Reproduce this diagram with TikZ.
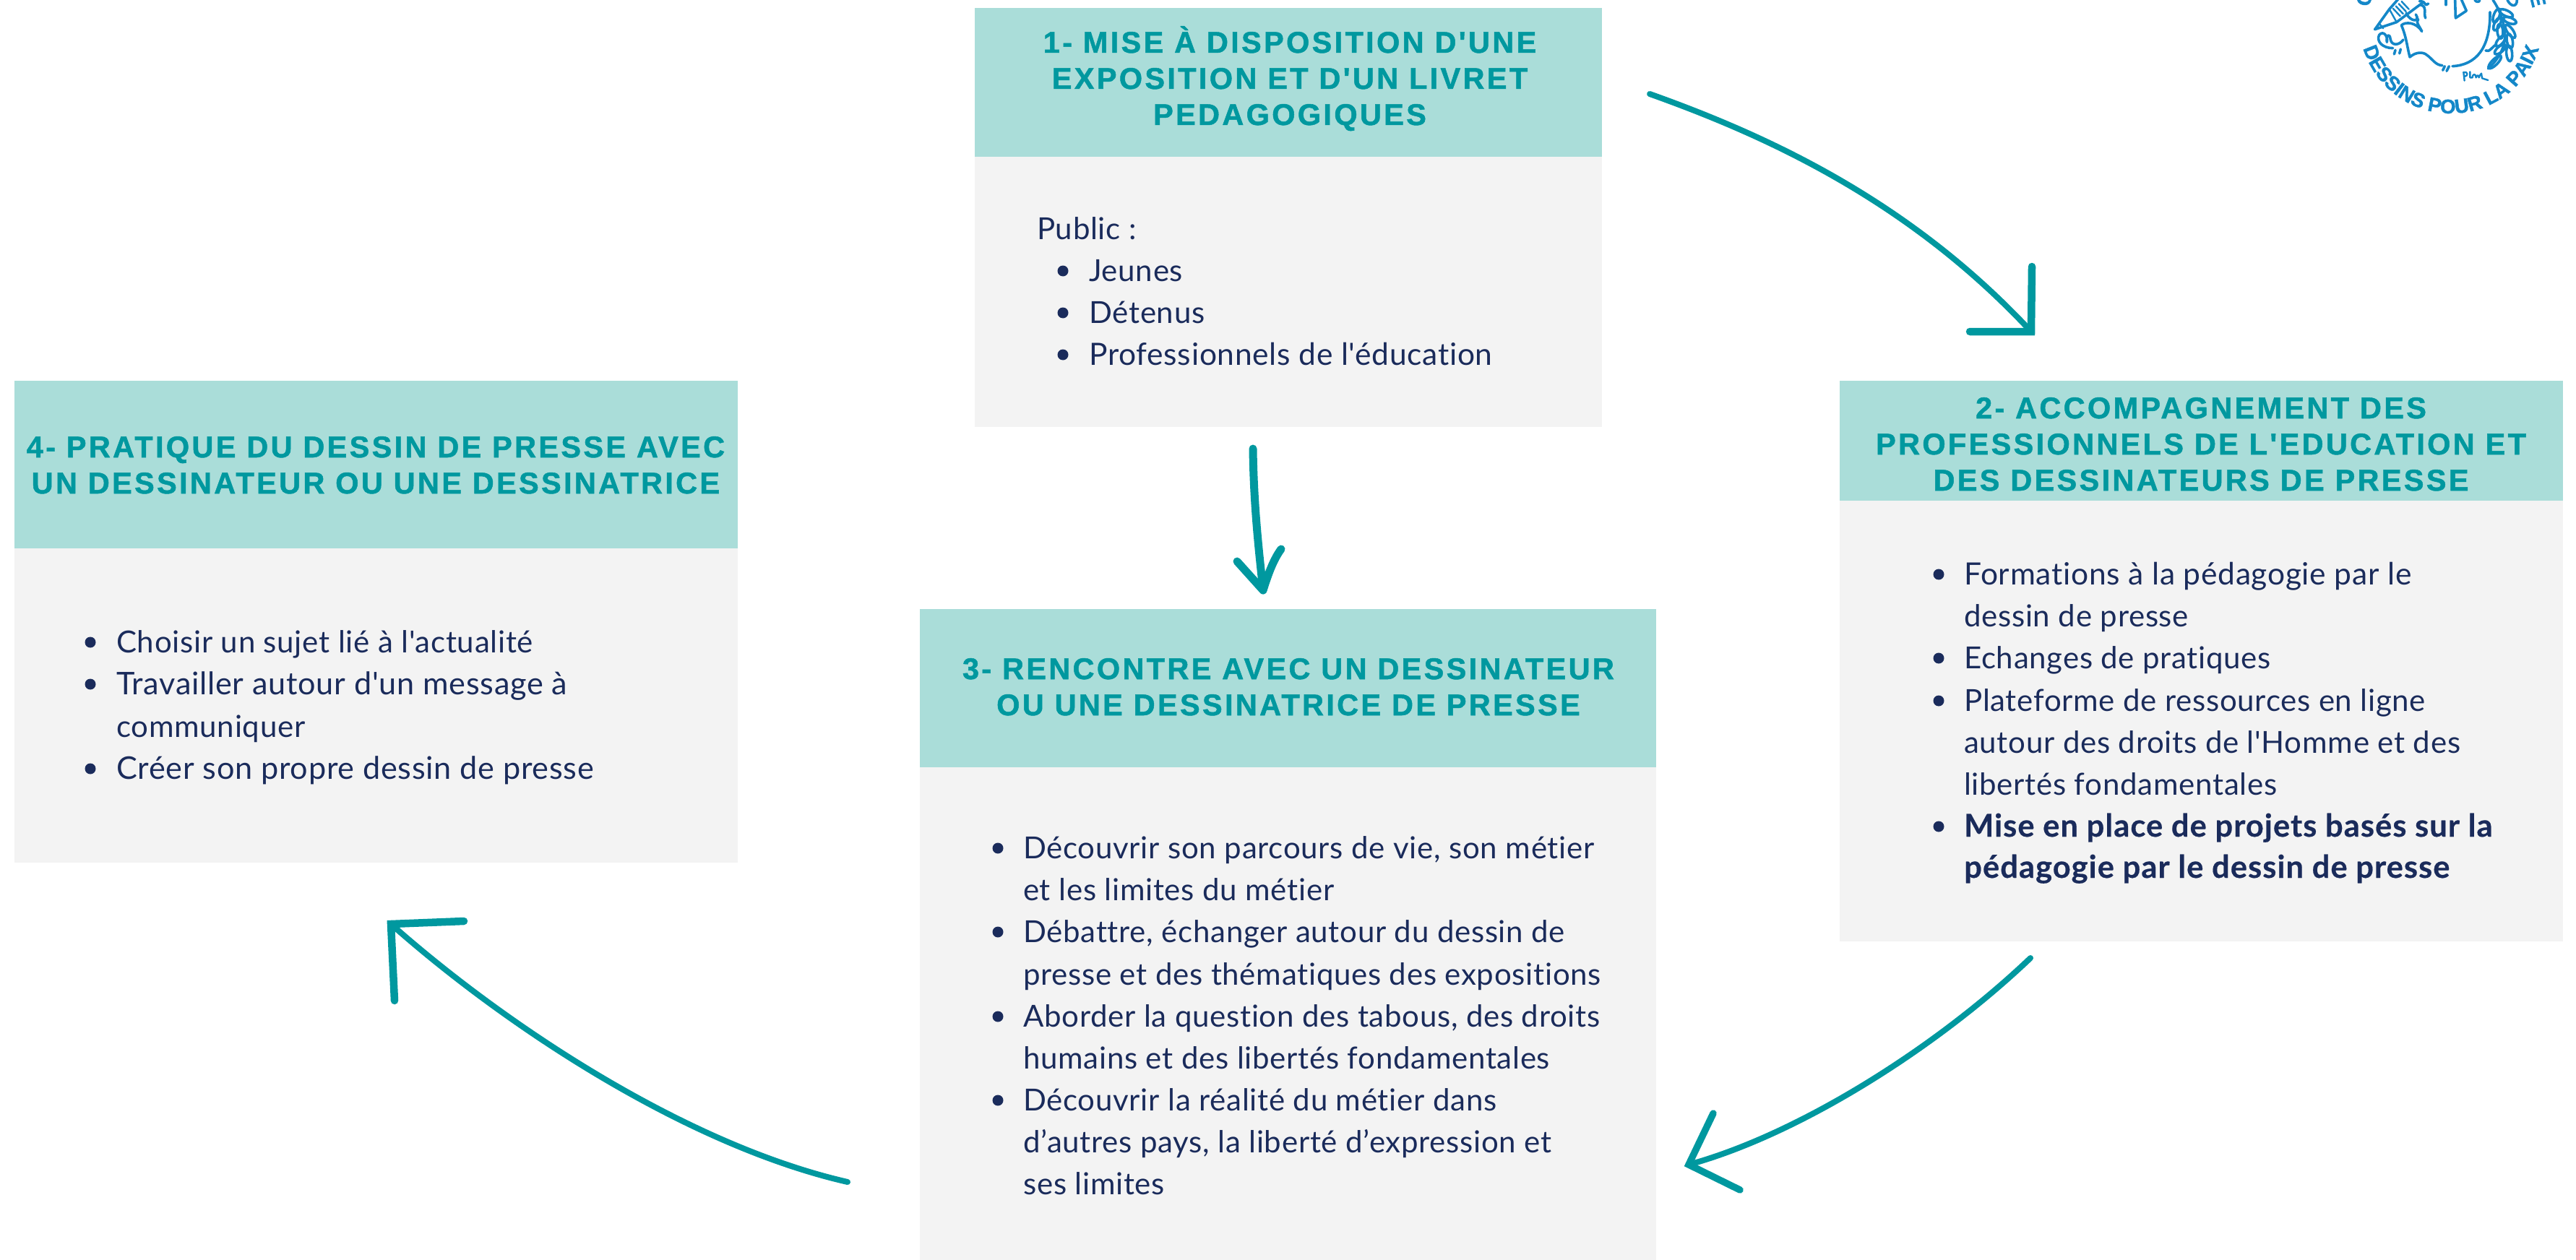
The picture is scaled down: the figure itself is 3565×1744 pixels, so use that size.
\documentclass[tikz,border=0pt]{standalone}
\usepackage{fontspec}
\usetikzlibrary{decorations.text}
\newfontfamily\bodyfont[Ligatures=NoCommon,LetterSpace=1.7,BoldFeatures={LetterSpace=2.4,FakeBold=0.4}]{Lato}
\newfontfamily\headfont[LetterSpace=8,FakeBold=1.2]{Liberation Sans Bold}
\newfontfamily\logofont[FakeBold=1.6]{Liberation Sans Bold}
\definecolor{headbg}{HTML}{AADDD9}
\definecolor{bodybg}{HTML}{F3F3F3}
\definecolor{teal1}{HTML}{00989F}
\definecolor{navy1}{HTML}{1A2B5B}
\definecolor{logoblue}{HTML}{1487C8}
\tikzset{
  headbox/.style={rectangle,fill=headbg,draw=none,inner sep=0pt,anchor=north west},
  bodybox/.style={rectangle,fill=bodybg,draw=none,inner sep=0pt,anchor=north west},
  headtxt/.style={anchor=base,inner sep=0pt,text=teal1,font=\headfont\fontsize{41.5}{50}\selectfont},
  bodytxt/.style={anchor=base west,inner sep=0pt,text=navy1,font=\bodyfont\fontsize{42}{58}\selectfont},
  widetxt/.style={bodytxt,font=\bodyfont\fontsize{43.2}{58}\selectfont},
  boldtxt/.style={bodytxt,font=\bodyfont\bfseries\fontsize{43.5}{58}\selectfont},
  bul/.style={circle,fill=navy1,draw=none,inner sep=0pt,minimum size=15pt},
  shaft/.style={draw=teal1,line width=8pt,line cap=round},
  headstroke/.style={draw=teal1,line width=10.5pt,line cap=round,line join=miter},
  logoline/.style={draw=logoblue,line width=3.6pt,line cap=round,line join=round},
  leaf/.style={draw=logoblue,line width=3.6pt},
}
\begin{document}
\begin{tikzpicture}[x=1pt,y=-1pt]
\useasboundingbox (0,0) rectangle (3565,1744);
% boxes
\node[bodybox,minimum width=868pt,minimum height=374pt] (b1) at (1349,217) {};
\node[headbox,minimum width=868pt,minimum height=206pt] (h1) at (1349,11) {};
\node[bodybox,minimum width=1001pt,minimum height=610pt] (b2) at (2546,693) {};
\node[headbox,minimum width=1001pt,minimum height=166pt] (h2) at (2546,527) {};
\node[bodybox,minimum width=1019pt,minimum height=682pt] (b3) at (1273,1062) {};
\node[headbox,minimum width=1019pt,minimum height=219pt] (h3) at (1273,843) {};
\node[bodybox,minimum width=1001pt,minimum height=435pt] (b4) at (20,759) {};
\node[headbox,minimum width=1001pt,minimum height=232pt] (h4) at (20,527) {};
% headers
\node[headtxt] (h1a) at (1785,73) {1- MISE À DISPOSITION D'UNE};
\node[headtxt] (h1b) at (1785,123) {EXPOSITION ET D'UN LIVRET};
\node[headtxt] (h1c) at (1785,173) {PEDAGOGIQUES};
\node[headtxt] (h2a) at (3046,579) {2- ACCOMPAGNEMENT DES};
\node[headtxt] (h2b) at (3046,629) {PROFESSIONNELS DE L'EDUCATION ET};
\node[headtxt] (h2c) at (3046,679) {DES DESSINATEURS DE PRESSE};
\node[headtxt] (h3a) at (1783,940) {3- RENCONTRE AVEC UN DESSINATEUR};
\node[headtxt] (h3b) at (1783,990) {OU UNE DESSINATRICE DE PRESSE};
\node[headtxt] (h4a) at (520,633) {4- PRATIQUE DU DESSIN DE PRESSE AVEC};
\node[headtxt] (h4b) at (520,683) {UN DESSINATEUR OU UNE DESSINATRICE};
% box 1
\node[bodytxt] (t1a) at (1435,331) {Public :};
\node[bul] (d1b) at (1471,375) {};
\node[bodytxt] (t1b) at (1507,389) {Jeunes};
\node[bul] (d1c) at (1471,433) {};
\node[bodytxt] (t1c) at (1507,447) {Détenus};
\node[bul] (d1d) at (1471,491) {};
\node[bodytxt,font=\bodyfont\fontsize{42.5}{58}\selectfont] (t1d) at (1507,505) {Professionnels de l'éducation};
% box 2
\node[bul] (d2a) at (2683,795) {};
\node[bodytxt,font=\bodyfont\fontsize{42.5}{58}\selectfont] (t2a) at (2718,809) {Formations à la pédagogie par le};
\node[bodytxt] (t2b) at (2718,867) {dessin de presse};
\node[bul] (d2c) at (2683,911) {};
\node[bodytxt] (t2c) at (2718,925) {Echanges de pratiques};
\node[bul] (d2d) at (2683,970) {};
\node[bodytxt] (t2d) at (2718,984) {Plateforme de ressources en ligne};
\node[bodytxt] (t2e) at (2718,1042) {autour des droits de l'Homme et des};
\node[bodytxt] (t2f) at (2718,1100) {libertés fondamentales};
\node[bul] (d2g) at (2683,1144) {};
\node[boldtxt] (t2g) at (2718,1158) {Mise en place de projets basés sur la};
\node[boldtxt] (t2h) at (2718,1215) {pédagogie par le dessin de presse};
% box 3
\node[bul] (d3a) at (1381,1174) {};
\node[bodytxt] (t3a) at (1416,1188) {Découvrir son parcours de vie, son métier};
\node[bodytxt] (t3b) at (1416,1246) {et les limites du métier};
\node[bul] (d3c) at (1381,1290) {};
\node[bodytxt] (t3c) at (1416,1304) {Débattre, échanger autour du dessin de};
\node[bodytxt] (t3d) at (1416,1363) {presse et des thématiques des expositions};
\node[bul] (d3e) at (1381,1407) {};
\node[bodytxt] (t3e) at (1416,1421) {Aborder la question des tabous, des droits};
\node[bodytxt] (t3f) at (1416,1479) {humains et des libertés fondamentales};
\node[bul] (d3g) at (1381,1523) {};
\node[bodytxt] (t3g) at (1416,1537) {Découvrir la réalité du métier dans};
\node[bodytxt] (t3h) at (1416,1595) {d’autres pays, la liberté d’expression et};
\node[bodytxt] (t3i) at (1416,1653) {ses limites};
% box 4
\node[bul] (d4a) at (125,889) {};
\node[bodytxt] (t4a) at (161,903) {Choisir un sujet lié à l'actualité};
\node[bul] (d4b) at (125,947) {};
\node[widetxt] (t4b) at (161,961) {Travailler autour d'un message à};
\node[bodytxt] (t4c) at (161,1020) {communiquer};
\node[bul] (d4d) at (125,1064) {};
\node[widetxt] (t4d) at (161,1078) {Créer son propre dessin de presse};
% arrow anchors
\coordinate (a1s) at (2283,130); \coordinate (a1t) at (2811,459);
\coordinate (a1u) at (2812,369); \coordinate (a1v) at (2726,459);
\coordinate (a2s) at (2810,1326); \coordinate (a2t) at (2337,1612);
\coordinate (a2u) at (2371,1541); \coordinate (a2v) at (2408,1647);
\coordinate (a3s) at (1173,1636); \coordinate (a3t) at (541,1279);
\coordinate (a3u) at (642,1275); \coordinate (a3v) at (546,1385);
\coordinate (a4s) at (1734,621); \coordinate (a4t) at (1748,817);
\coordinate (a4u) at (1712,777); \coordinate (a4v) at (1773,760);
% arrows
\draw[shaft] (a1s) .. controls (2440,186) and (2640,275) .. (a1t);
\draw[headstroke] (a1u) -- (a1t) -- (a1v);
\draw[shaft] (a2s) .. controls (2680,1450) and (2490,1570) .. (a2t);
\draw[headstroke,line width=9.5pt] (a2u) -- (a2t) -- (a2v);
\draw[shaft] (a3s) .. controls (950,1585) and (700,1420) .. (a3t);
\draw[headstroke] (a3u) -- (a3t) -- (a3v);
\draw[shaft,line width=11pt] (a4s) .. controls (1735,700) and (1742,760) .. (a4t);
\draw[headstroke,line width=11pt,line join=round] (a4u) -- (a4t) .. controls (1755,795) and (1762,775) .. (a4v);
% logo
\path[decorate,decoration={text along path,text align=center,
  text={|\logofont\fontsize{27.5}{28}\selectfont\color{logoblue}|DESSINS POUR LA PAIX}}]
  (3392,30) ++(178:127) arc (178:2:127);
\node[text=logoblue,font=\logofont\fontsize{28}{28}\selectfont,rotate=78,inner sep=0pt] (lc) at (3272,-2) {C};
\node[text=logoblue,font=\logofont\fontsize{28}{28}\selectfont,rotate=-76,inner sep=0pt] (le) at (3512,0) {E};
\begin{scope}[shift={(3150,0)},x=0.3333pt,y=-0.3333pt]
  % pencil
  \draw[logoline] (530,-30) -- (470,38) -- (410,122) -- (500,92) -- (610,10);
  \draw[logoline,line width=2.4pt] (430,100) -- (445,118);
  \draw[logoline,line width=2.4pt] (470,38) -- (500,92);
  \foreach \k in {0,12,24,36} {\draw[logoline,line width=2.4pt] (485+\k,35-\k*0.8) -- (515+\k,85-\k*0.8-18);}
  \draw[logoline] (595,5) .. controls (630,5) and (610,30) .. (632,15);
  \draw[logoline] (600,20) .. controls (630,30) and (610,50) .. (620,75);
  % dove
  \draw[logoline] (605,130) .. controls (580,90) and (535,90) .. (520,105) .. controls (540,150) and (545,200) .. (555,237) .. controls (580,215) and (610,215) .. (625,228) .. controls (650,245) and (660,270) .. (690,272);
  \draw[logoline] (732,275) .. controls (830,270) and (890,200) .. (888,50);
  \draw[logoline] (540,55) .. controls (560,95) and (600,90) .. (580,60);
  \draw[logoline] (605,130) .. controls (590,100) and (580,95) .. (590,80);
  \draw[logoline] (692,292) -- (700,275);
  \draw[logoline] (708,295) -- (718,275);
  \draw[logoline] (745,75) -- (790,45) -- (770,0);
  \draw[logoline] (745,75) -- (743,0);
  \draw[logoline] (705,0) -- (705,20);
  \draw[logoline] (825,0) .. controls (830,10) and (845,10) .. (845,0);
  % curl
  \draw[logoline] (485,200) .. controls (440,200) and (415,170) .. (428,145) .. controls (445,125) and (465,150) .. (460,175) .. controls (455,150) and (470,130) .. (475,165) .. controls (480,190) and (510,190) .. (528,165);
  \draw[logoline] (490,225) -- (495,208);
  \draw[logoline] (512,222) -- (517,204);
  % olive branch
  \draw[logoline] (900,0) .. controls (935,50) and (950,110) .. (950,150) .. controls (950,200) and (920,250) .. (880,285);
  \draw[logoline] (870,210) .. controls (885,220) and (900,190) .. (915,185);
  \foreach \cx/\cy/\a/\r in {915/65/110/30,955/55/25/30,970/85/20/28,918/100/115/28,972/130/55/32,930/130/85/30,970/170/80/30,932/170/130/28,930/205/140/28,968/222/85/32,908/258/135/35} {
    \draw[leaf,rotate around={-\a:(\cx,\cy)}] (\cx,\cy) ellipse [x radius=\r,y radius=12];
  }
  \draw[logoline] (960,0) .. controls (975,30) and (1000,30) .. (1000,0);
  % signature
  \draw[logoline,line width=2.4pt] (782,335) -- (778,300) .. controls (795,295) and (800,315) .. (782,318);
  \draw[logoline,line width=2.4pt] (805,298) -- (805,322) -- (815,322) .. controls (815,305) and (830,305) .. (830,322) .. controls (835,310) and (840,310) .. (842,322) .. controls (845,310) and (850,310) .. (852,305) -- (855,325) -- (880,333);
\end{scope}
\end{tikzpicture}
\end{document}
